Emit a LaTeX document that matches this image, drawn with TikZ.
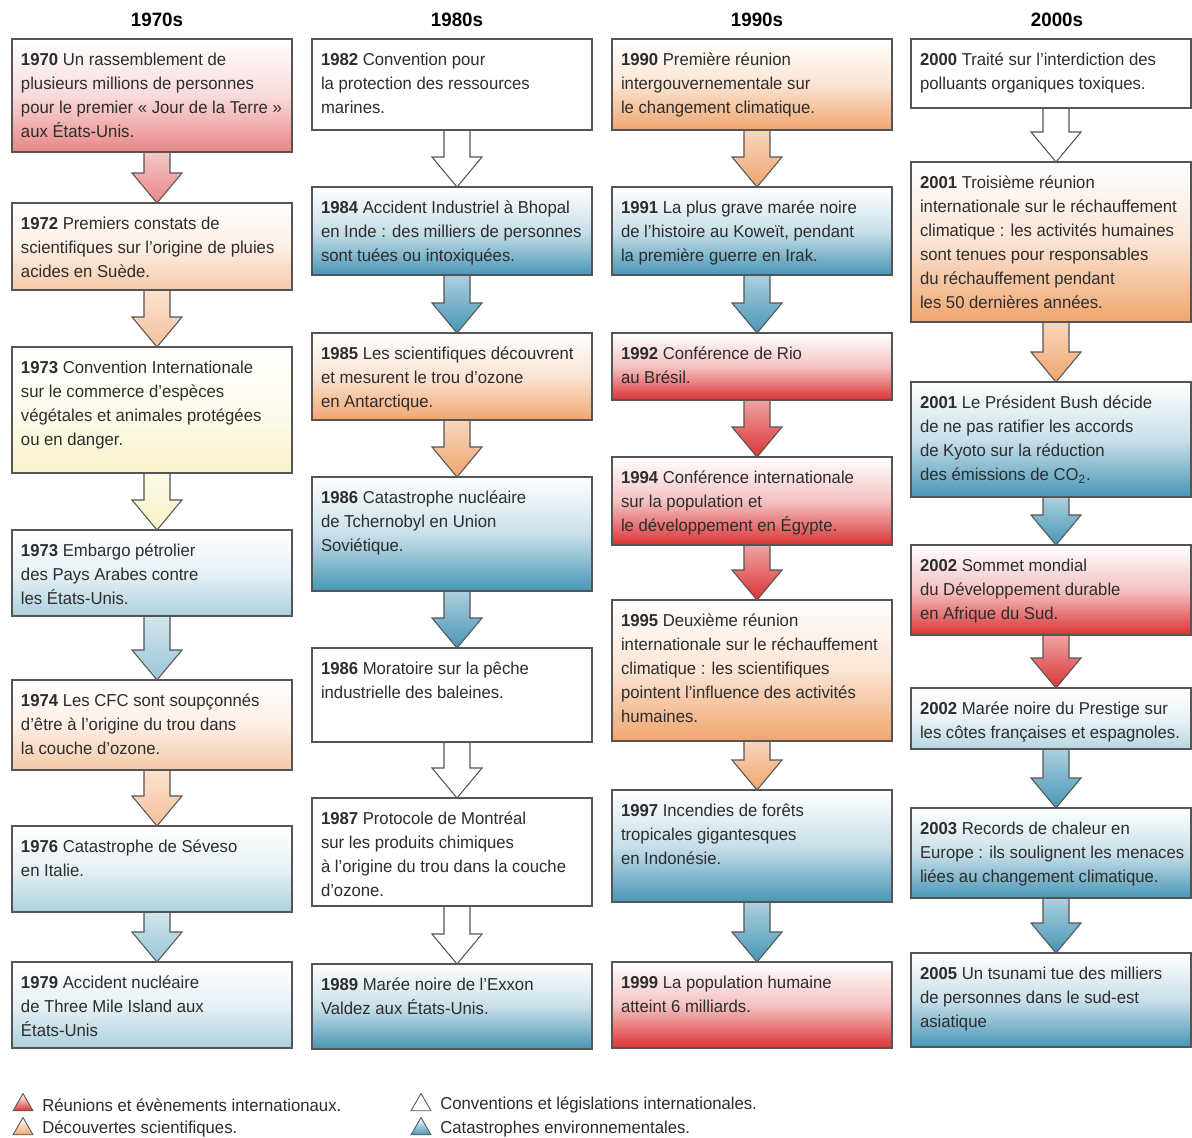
\documentclass[tikz,border=0pt]{standalone}
\usepackage{fontspec}
\setmainfont{Liberation Sans}[FakeStretch=0.97]
\usetikzlibrary{positioning}
\usetikzlibrary{calc}
\usetikzlibrary{backgrounds}
\usetikzlibrary{shapes.geometric}

\definecolor{redc}{RGB}{218,52,52}
\definecolor{peachc}{RGB}{240,165,110}
\definecolor{bluec}{RGB}{72,150,182}
\definecolor{creamc}{RGB}{248,242,200}
\definecolor{linec}{RGB}{85,85,85}
\definecolor{textc}{RGB}{45,45,45}
% paler tones for the first column
\colorlet{redl}{redc!60}
\colorlet{peachl}{peachc!60}
\colorlet{bluel}{bluec!45}
\colorlet{peacha}{peachc!70}
\colorlet{bluea}{bluec!55}
\colorlet{bluevl}{bluec!40}

\newlength\pxu
\setlength\pxu{0.02cm}

\tikzset{
  evbox/.style={draw=linec, line width=0.7pt, outer sep=0pt, inner xsep=0.18cm, inner ysep=0.2cm,
    anchor=north west, text=textc, font=\fontsize{9.8}{13.6}\selectfont,
    top color=white, bottom color=#1, middle color=#1!30!white},
  flow/.style={draw=linec, line width=0.6pt, line join=miter, top color=#1!45!white, bottom color=#1},
  head/.style={font=\fontsize{11}{13}\selectfont\bfseries},
  legtri/.style={regular polygon, regular polygon sides=3, draw=linec, line width=0.5pt,
    minimum size=0.46cm, inner sep=0pt, top color=white, bottom color=#1},
  legtext/.style={text=textc, font=\fontsize{9.8}{12}\selectfont, right=0.12cm of #1},
}

% name, left x, top y, bottom y, colour, lines of text
\newcommand\milestone[6]{%
  \node[evbox=#5] (#1) at (#2,#3)
    {\parbox[t][\dimexpr\numexpr#4-#3\relax\pxu-0.4cm\relax][t]{262\pxu}%
      {\makebox[262\pxu][l]{\begin{tabular}[t]{@{}l@{}}#6\end{tabular}}}};}

% block arrow from one box down to the next
\newcommand\flowarrow[3]{%
  \begin{scope}[on background layer]
    \draw[flow=#3] ($(#1.south)+(-8,0)$) -- ($(#2.north)+(-8,-30)$) -- ($(#2.north)+(-20,-30)$)
      -- ($(#2.north)+(5,0)$) -- ($(#2.north)+(30,-30)$) -- ($(#2.north)+(18,-30)$)
      -- ($(#1.south)+(18,0)$) -- cycle;
  \end{scope}}

\begin{document}
\begin{tikzpicture}[x=0.02cm, y=-0.02cm]
  \useasboundingbox (0,0) rectangle (1192,1137);
  \begin{scope}[on background layer]
    \fill[white] (0,0) rectangle (1192,1137);
  \end{scope}

  % decades
  \node[head] (h70) at (157,20) {1970s};
  \node[head] (h80) at (457,20) {1980s};
  \node[head] (h90) at (757,20) {1990s};
  \node[head] (h00) at (1057,20) {2000s};

  % 1970s
  \milestone{c70}{12}{39}{152}{redl}{\textbf{1970} Un rassemblement de\\ plusieurs millions de personnes\\ pour le premier «~Jour de la Terre~»\\ aux États-Unis.}
  \milestone{c72}{12}{203}{290}{peachl}{\textbf{1972} Premiers constats de\\ scientifiques sur l'origine de pluies\\ acides en Suède.}
  \milestone{c73a}{12}{347}{473}{creamc}{\textbf{1973} Convention Internationale\\ sur le commerce d'espèces\\ végétales et animales protégées\\ ou en danger.}
  \milestone{c73b}{12}{530}{616}{bluel}{\textbf{1973} Embargo pétrolier\\ des Pays Arabes contre\\ les États-Unis.}
  \milestone{c74}{12}{680}{770}{peachl}{\textbf{1974} Les CFC sont soupçonnés\\ d'être à l'origine du trou dans\\ la couche d'ozone.}
  \milestone{c76}{12}{826}{912}{bluel}{\textbf{1976} Catastrophe de Séveso\\ en Italie.}
  \milestone{c79}{12}{962}{1048}{bluel}{\textbf{1979} Accident nucléaire\\ de Three Mile Island aux\\ États-Unis}

  % 1980s
  \milestone{c82}{312}{39}{130}{white}{\textbf{1982} Convention pour\\ la protection des ressources\\ marines.}
  \milestone{c84}{312}{187}{275}{bluec}{\textbf{1984} Accident Industriel à Bhopal\\ en Inde : des milliers de personnes\\ sont tuées ou intoxiquées.}
  \milestone{c85}{312}{333}{420}{peachc}{\textbf{1985} Les scientifiques découvrent\\ et mesurent le trou d'ozone\\ en Antarctique.}
  \milestone{c86a}{312}{477}{591}{bluec}{\textbf{1986} Catastrophe nucléaire\\ de Tchernobyl en Union\\ Soviétique.}
  \milestone{c86b}{312}{648}{742}{white}{\textbf{1986} Moratoire sur la pêche\\ industrielle des baleines.}
  \milestone{c87}{312}{798}{906}{white}{\textbf{1987} Protocole de Montréal\\ sur les produits chimiques\\ à l'origine du trou dans la couche\\ d'ozone.}
  \milestone{c89}{312}{964}{1049}{bluec}{\textbf{1989} Marée noire de l'Exxon\\ Valdez aux États-Unis.}

  % 1990s
  \milestone{c90}{612}{39}{130}{peachc}{\textbf{1990} Première réunion\\ intergouvernementale sur\\ le changement climatique.}
  \milestone{c91}{612}{187}{275}{bluec}{\textbf{1991} La plus grave marée noire\\ de l'histoire au Koweït, pendant\\ la première guerre en Irak.}
  \milestone{c92}{612}{333}{400}{redc}{\textbf{1992} Conférence de Rio\\ au Brésil.}
  \milestone{c94}{612}{457}{545}{redc}{\textbf{1994} Conférence internationale\\ sur la population et\\ le développement en Égypte.}
  \milestone{c95}{612}{600}{741}{peachc}{\textbf{1995} Deuxième réunion\\ internationale sur le réchauffement\\ climatique : les scientifiques\\ pointent l'influence des activités\\ humaines.}
  \milestone{c97}{612}{790}{902}{bluec}{\textbf{1997} Incendies de forêts\\ tropicales gigantesques\\ en Indonésie.}
  \milestone{c99}{612}{962}{1048}{redc}{\textbf{1999} La population humaine\\ atteint 6 milliards.}

  % 2000s
  \milestone{c00}{911}{39}{108}{white}{\textbf{2000} Traité sur l'interdiction des\\ polluants organiques toxiques.}
  \milestone{c01a}{911}{162}{322}{peachc}{\textbf{2001} Troisième réunion\\ internationale sur le réchauffement\\ climatique : les activités humaines\\ sont tenues pour responsables\\ du réchauffement pendant\\ les 50 dernières années.}
  \milestone{c01b}{911}{382}{497}{bluec}{\textbf{2001} Le Président Bush décide\\ de ne pas ratifier les accords\\ de Kyoto sur la réduction\\ des émissions de CO\textsubscript{2}.}
  \milestone{c02a}{911}{545}{635}{redc}{\textbf{2002} Sommet mondial\\ du Développement durable\\ en Afrique du Sud.}
  \milestone{c02b}{911}{688}{749}{bluevl}{\textbf{2002} Marée noire du Prestige sur\\ les côtes françaises et espagnoles.}
  \milestone{c03}{911}{808}{898}{bluec}{\textbf{2003} Records de chaleur en\\ Europe : ils soulignent les menaces\\ liées au changement climatique.}
  \milestone{c05}{911}{953}{1047}{bluec}{\textbf{2005} Un tsunami tue des milliers\\ de personnes dans le sud-est\\ asiatique}

  % arrows, coloured after the box they leave
  \flowarrow{c70}{c72}{redl}
  \flowarrow{c72}{c73a}{peacha}
  \flowarrow{c73a}{c73b}{creamc}
  \flowarrow{c73b}{c74}{bluea}
  \flowarrow{c74}{c76}{peacha}
  \flowarrow{c76}{c79}{bluea}

  \flowarrow{c82}{c84}{white}
  \flowarrow{c84}{c85}{bluec}
  \flowarrow{c85}{c86a}{peachc}
  \flowarrow{c86a}{c86b}{bluec}
  \flowarrow{c86b}{c87}{white}
  \flowarrow{c87}{c89}{white}

  \flowarrow{c90}{c91}{peachc}
  \flowarrow{c91}{c92}{bluec}
  \flowarrow{c92}{c94}{redc}
  \flowarrow{c94}{c95}{redc}
  \flowarrow{c95}{c97}{peachc}
  \flowarrow{c97}{c99}{bluec}

  \flowarrow{c00}{c01a}{white}
  \flowarrow{c01a}{c01b}{peachc}
  \flowarrow{c01b}{c02a}{bluec}
  \flowarrow{c02a}{c02b}{redc}
  \flowarrow{c02b}{c03}{bluec}
  \flowarrow{c03}{c05}{bluec}

  % legend
  \node[legtri=redc] (lg1) at (23,1105) {};
  \node[legtext=lg1] (lt1) {Réunions et évènements internationaux.};
  \node[legtri=peachc] (lg2) at (23,1129) {};
  \node[legtext=lg2] (lt2) {Découvertes scientifiques.};
  \node[legtri=white] (lg3) at (421,1105) {};
  \node[legtext=lg3] (lt3) {Conventions et législations internationales.};
  \node[legtri=bluec] (lg4) at (421,1129) {};
  \node[legtext=lg4] (lt4) {Catastrophes environnementales.};
\end{tikzpicture}
\end{document}
